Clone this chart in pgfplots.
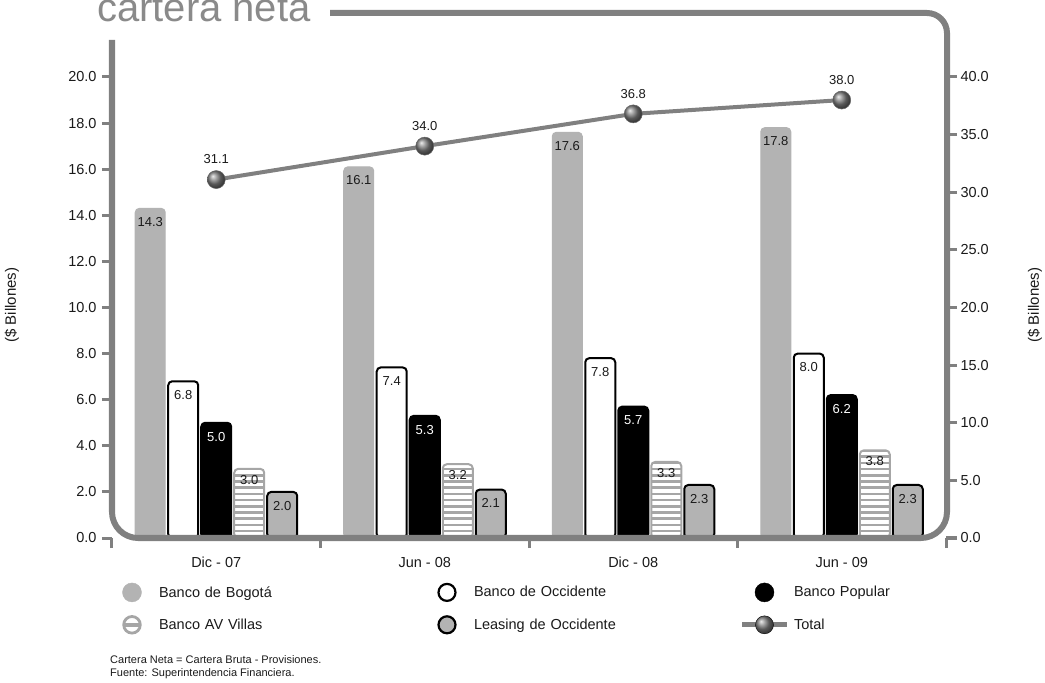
\documentclass[border=0pt]{standalone}
\usepackage{pgfplots}
\pgfplotsset{compat=1.18}
\usepackage{fontspec}
\setmainfont{Liberation Sans}
\usetikzlibrary{patterns,shadings,plotmarks}
\definecolor{framegray}{HTML}{808080}
\definecolor{bargray}{HTML}{B3B3B3}
\definecolor{stripegray}{HTML}{A6A6A6}
\definecolor{titlegray}{HTML}{8A8A8A}
\definecolor{txt}{HTML}{1A1A1A}
\pgfdeclarepatternformonly{hstripes}{\pgfpoint{-1bp}{0bp}}{\pgfpoint{7bp}{6.2bp}}{\pgfpoint{6bp}{6.2bp}}{%
  \pgfsetlinewidth{2.6bp}%
  \pgfpathmoveto{\pgfpoint{-1bp}{3.1bp}}\pgfpathlineto{\pgfpoint{7bp}{3.1bp}}\pgfusepath{stroke}}
\newcommand\ftick{\fontsize{14.5bp}{17bp}\selectfont}
\newcommand\fbar{\fontsize{13bp}{15bp}\selectfont}
\newcommand\fnote{\fontsize{11bp}{13bp}\selectfont}
\newcommand\ftitle{\fontsize{40bp}{48bp}\selectfont}
\pgfplotsset{
  common/.style={
    at={(0,0)}, anchor=south west,
    scale only axis, width=834bp, height=461bp,
    xmin=-0.5, xmax=3.5, clip=false,
    axis line style={draw=none},
    tick align=outside,
    major tick length=10bp,
    tick style={framegray, line width=3bp},
    tick label style={font=\ftick, text=txt},
    /pgf/number format/fixed, /pgf/number format/fixed zerofill,
    /pgf/number format/precision=1,
    /pgf/number format/assume math mode=true,
    every axis y label/.style={rotate=90, anchor=center, font=\fontsize{15bp}{17bp}\selectfont, text=txt},
  }
}
\begin{document}
\begin{tikzpicture}
\useasboundingbox (-112bp,-145bp) rectangle (933bp,538bp);
\begin{axis}[common,
  ymin=0, ymax=20, ytick={0,2,...,20}, ytick pos=left,
  yticklabel style={xshift=-2bp},
  ylabel={(\$ Billones)},
  every axis y label/.append style={at={(axis description cs:-0.12,0.505)}},
  ybar, bar width=30bp,
  xtick={-0.5,0.5,...,3.5}, xticklabels={}, xtick pos=bottom,
  extra x ticks={0,1,2,3},
  extra x tick labels={Dic - 07, Jun - 08, Dic - 08, Jun - 09},
  extra x tick style={tick style={draw=none}, xticklabel style={yshift=-5bp, text height=10.5bp, text depth=0bp}},
  legend columns=3,
  legend cell align=left,
  legend style={at={(axis description cs:-0.0024,-0.097)}, anchor=north west,
    draw=none, fill=none, inner sep=0pt, outer sep=0pt, column sep=0pt, row sep=13bp,
    font=\ftick, text=txt,
    nodes={inner xsep=5bp, inner ysep=0pt, text width=261bp}},
]
\addplot[forget plot, fill=bargray, draw=bargray, line width=1bp, bar shift=-66bp, rounded corners=4bp,
  nodes near coords, every node near coord/.append style={anchor=north, yshift=-5bp, font=\fbar, text=txt}]
  coordinates {(0,14.3)(1,16.1)(2,17.6)(3,17.8)};
\addplot[forget plot, fill=white, draw=black, line width=2bp, bar shift=-33bp, rounded corners=4bp,
  nodes near coords, every node near coord/.append style={anchor=north, yshift=-5bp, font=\fbar, text=txt}]
  coordinates {(0,6.8)(1,7.4)(2,7.8)(3,8.0)};
\addplot[forget plot, fill=black, draw=black, line width=2bp, bar shift=0bp, rounded corners=4bp,
  nodes near coords, every node near coord/.append style={anchor=north, yshift=-5bp, font=\fbar, text=white}]
  coordinates {(0,5.0)(1,5.3)(2,5.7)(3,6.2)};
\addplot[forget plot, pattern=hstripes, pattern color=stripegray, draw=stripegray, line width=2bp, bar shift=33bp, rounded corners=4bp,
  nodes near coords, every node near coord/.append style={anchor=north, yshift=-2bp, font=\fbar, text=txt}]
  coordinates {(0,3.0)(1,3.2)(2,3.3)(3,3.8)};
\addplot[forget plot, fill=bargray, draw=black, line width=2bp, bar shift=66bp, rounded corners=4bp,
  nodes near coords, every node near coord/.append style={anchor=north, yshift=-5bp, font=\fbar, text=txt}]
  coordinates {(0,2.0)(1,2.1)(2,2.3)(3,2.3)};
\addlegendimage{legend image code/.code={\path[draw=none] (-22bp,0) -- (22bp,0); \fill[bargray] (0,0) circle (9.5bp);}}
\addlegendentry{Banco de Bogotá}
\addlegendimage{legend image code/.code={\path[draw=none] (-22bp,0) -- (22bp,0); \draw[black, line width=2.2bp, fill=white] (0,0) circle (8.5bp);}}
\addlegendentry{Banco de Occidente}
\addlegendimage{legend image code/.code={\path[draw=none] (-22bp,0) -- (22bp,0); \fill[black] (0,0) circle (9.5bp);}}
\addlegendentry{Banco Popular}
\addlegendimage{legend image code/.code={\path[draw=none] (-22bp,0) -- (22bp,0); \draw[stripegray, line width=2.8bp, fill=white] (0,0) circle (8.3bp); \fill[stripegray] (-8bp,-1.4bp) rectangle (8bp,1.4bp);}}
\addlegendentry{Banco AV Villas}
\addlegendimage{legend image code/.code={\path[draw=none] (-22bp,0) -- (22bp,0); \draw[black, line width=2.2bp, fill=bargray] (0,0) circle (8.5bp);}}
\addlegendentry{Leasing de Occidente}
\addlegendimage{legend image code/.code={\draw[framegray, line width=5bp] (-22bp,0) -- (22bp,0); \shade[ball color=gray] (0,0) circle (9bp);}}
\addlegendentry{Total}
\end{axis}
\draw[framegray, line width=6bp] (0,498bp) [rounded corners=26bp] -- (0,0) -- (835bp,0) [rounded corners=20bp] -- (835bp,525bp) -- (218bp,525bp);
\begin{axis}[common,
  ymin=0, ymax=40, ytick={0,5,...,40}, ytick pos=right,
  xtick=\empty, major tick length=11bp,
  ylabel={(\$ Billones)},
  every axis y label/.append style={at={(axis description cs:1.1067,0.505)}},
]
\addplot[framegray, line width=4bp, mark=ball, mark size=9bp, mark options={ball color=gray, draw=black!60, line width=0.5bp},
  nodes near coords, every node near coord/.append style={anchor=south, yshift=12bp, font=\fbar, text=txt}]
  coordinates {(0,31.1)(1,34.0)(2,36.8)(3,38.0)};
\end{axis}
\node[anchor=base west, inner sep=0pt, text=titlegray, font=\ftitle] at (-15bp,516bp) {cartera neta};
\node[anchor=base west, inner sep=0pt, text=txt, font=\fnote] at (-2bp,-125bp) {Cartera Neta = Cartera Bruta - Provisiones.};
\node[anchor=base west, inner sep=0pt, text=txt, font=\fnote] at (-2bp,-138bp) {Fuente: Superintendencia Financiera.};
\end{tikzpicture}
\end{document}
